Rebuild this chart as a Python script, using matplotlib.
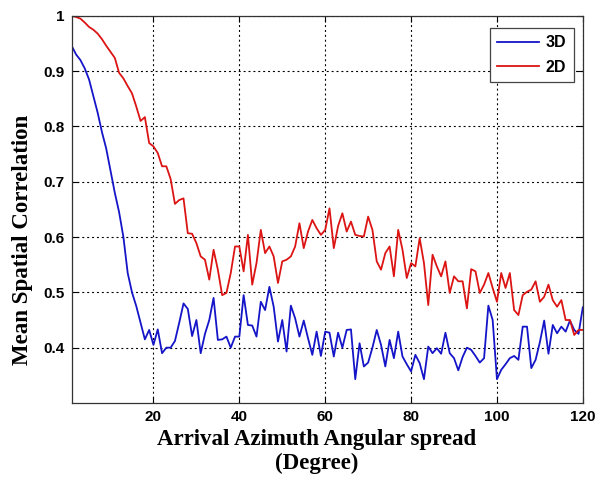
import matplotlib
matplotlib.use("Agg")
import matplotlib.pyplot as plt
import numpy as np

# arrival azimuth angular spread (degree)
spread = np.arange(1, 121)

corr_3d = [
    0.945, 0.93, 0.92, 0.905, 0.885, 0.855, 0.825, 0.79, 0.76, 0.72,
    0.68, 0.645, 0.60, 0.535, 0.50, 0.475, 0.445, 0.415, 0.432, 0.405,
    0.433, 0.39, 0.40, 0.40, 0.412, 0.445, 0.48, 0.47, 0.421, 0.45,
    0.39, 0.425, 0.45, 0.49, 0.414, 0.415, 0.42, 0.40, 0.42, 0.42,
    0.495, 0.441, 0.44, 0.42, 0.483, 0.468, 0.51, 0.474, 0.411, 0.45,
    0.393, 0.476, 0.453, 0.42, 0.449, 0.417, 0.387, 0.429, 0.385, 0.429,
    0.427, 0.384, 0.427, 0.40, 0.432, 0.433, 0.343, 0.408, 0.366, 0.373,
    0.40, 0.432, 0.405, 0.366, 0.414, 0.381, 0.429, 0.384, 0.37, 0.357,
    0.387, 0.372, 0.343, 0.402, 0.39, 0.399, 0.389, 0.427, 0.39, 0.381,
    0.359, 0.383, 0.40, 0.396, 0.385, 0.373, 0.381, 0.476, 0.45, 0.343,
    0.36, 0.37, 0.381, 0.385, 0.378, 0.438, 0.438, 0.363, 0.378, 0.41,
    0.449, 0.389, 0.441, 0.426, 0.438, 0.429, 0.449, 0.432, 0.425, 0.473,
]

corr_2d = [
    1.0, 0.998, 0.995, 0.988, 0.98, 0.975, 0.968, 0.958, 0.946, 0.935,
    0.924, 0.897, 0.887, 0.873, 0.86, 0.836, 0.81, 0.817, 0.77, 0.764,
    0.752, 0.728, 0.728, 0.705, 0.66, 0.667, 0.67, 0.607, 0.606, 0.589,
    0.565, 0.559, 0.523, 0.577, 0.541, 0.495, 0.499, 0.535, 0.583, 0.583,
    0.538, 0.604, 0.514, 0.553, 0.613, 0.571, 0.583, 0.565, 0.517, 0.556,
    0.559, 0.565, 0.583, 0.625, 0.58, 0.61, 0.631, 0.616, 0.604, 0.613,
    0.652, 0.58, 0.62, 0.643, 0.61, 0.628, 0.604, 0.602, 0.601, 0.637,
    0.613, 0.556, 0.541, 0.571, 0.583, 0.529, 0.613, 0.577, 0.526, 0.553,
    0.547, 0.598, 0.553, 0.477, 0.568, 0.547, 0.529, 0.556, 0.499, 0.529,
    0.52, 0.52, 0.471, 0.542, 0.538, 0.499, 0.514, 0.535, 0.508, 0.483,
    0.535, 0.508, 0.535, 0.468, 0.459, 0.495, 0.501, 0.505, 0.52, 0.483,
    0.492, 0.514, 0.486, 0.474, 0.486, 0.45, 0.45, 0.423, 0.432, 0.432,
]

xticks = [20, 40, 60, 80, 100, 120]
yticks = [0.4, 0.5, 0.6, 0.7, 0.8, 0.9, 1.0]
ytick_labels = ["0.4", "0.5", "0.6", "0.7", "0.8", "0.9", "1"]

fig = plt.figure(figsize=(5.99, 4.82), dpi=100)
ax = fig.add_axes([0.120, 0.164, 0.853, 0.803])

ax.plot(spread, corr_3d, color="#1414c8", lw=1.3, label="3D")
ax.plot(spread, corr_2d, color="#dc1414", lw=1.3, label="2D")

ax.set_xlim(1, 120)
ax.set_ylim(0.3, 1.0)
ax.set_xticks(xticks)
ax.set_yticks(yticks)
ax.set_yticklabels(ytick_labels)
ax.grid(True, color="black", linestyle=(0, (1.8, 2.6)), linewidth=0.8)
ax.tick_params(direction="in", top=True, right=True, length=4, pad=5)
for lab in ax.get_xticklabels() + ax.get_yticklabels():
    lab.set_fontfamily("Liberation Sans")
    lab.set_fontweight("bold")
    lab.set_fontsize(11)
for s in ax.spines.values():
    s.set_linewidth(0.9)
    s.set_color("#333333")

leg = ax.legend(loc="upper right", bbox_to_anchor=(0.982, 0.968),
                prop={"family": "Liberation Sans", "weight": "bold", "size": 11.5},
                fancybox=False, framealpha=1, edgecolor="#444444",
                handlelength=2.6, borderpad=0.45, labelspacing=0.6,
                handletextpad=0.45, borderaxespad=0, handleheight=0.7)
leg.get_frame().set_linewidth(0.9)

fig.text(0.529, 0.063, "Arrival Azimuth Angular spread\n(Degree)",
         ha="center", va="center", fontfamily="Liberation Serif",
         fontweight="bold", fontsize=16.5, linespacing=1.2)
fig.text(0.038, 0.502, "Mean Spatial Correlation", rotation=90,
         ha="center", va="center", fontfamily="Liberation Serif",
         fontweight="bold", fontsize=16.5)

fig.savefig("out.png", dpi=100)
